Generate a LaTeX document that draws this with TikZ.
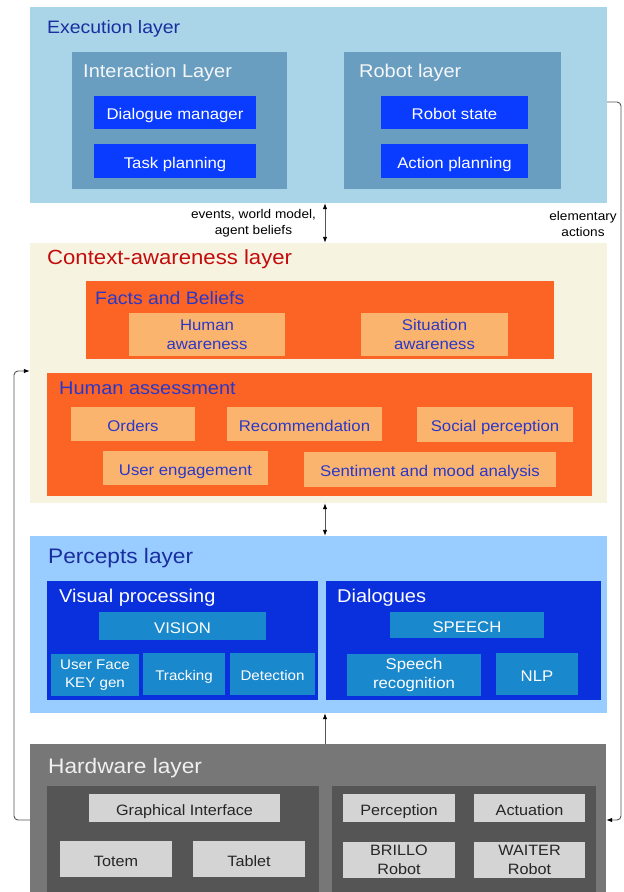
\documentclass[tikz,border=0pt]{standalone}
\usepackage{fontspec}
\setmainfont{Liberation Sans}[FakeStretch=1.08]
\usetikzlibrary{arrows.meta}

\definecolor{execbg}{HTML}{AAD5E8}
\definecolor{execsub}{HTML}{6A9EC0}
\definecolor{brightblue}{HTML}{0A3CFF}
\definecolor{titleblue}{HTML}{1A2EA0}
\definecolor{ctxbg}{HTML}{F6F4E1}
\definecolor{ctxred}{HTML}{C40C0C}
\definecolor{ctxorange}{HTML}{FB6424}
\definecolor{ctxlight}{HTML}{FBB46E}
\definecolor{ctxtext}{HTML}{2A38C8}
\definecolor{percbg}{HTML}{99CCFF}
\definecolor{percsub}{HTML}{0A30DD}
\definecolor{percfill}{HTML}{1A88CC}
\definecolor{hwbg}{HTML}{777777}
\definecolor{hwsub}{HTML}{555555}
\definecolor{hwfill}{HTML}{D4D4D4}
\definecolor{wirecol}{HTML}{555555}

\begin{document}
\begin{tikzpicture}[x=1pt,y=-1pt,
  >={Latex[length=6pt,width=4.5pt,fill=black,color=black]},
  block/.style={inner sep=0pt, align=center},
  oneline/.style={text height=14pt, text depth=0pt},
  smallline/.style={font=\fontsize{14}{17.5}\selectfont, text height=12pt, text depth=0pt},
  layertitle/.style={inner sep=0pt, anchor=base west, font=\fontsize{20.5}{24}\selectfont},
  subtitle/.style={inner sep=0pt, anchor=base west, font=\fontsize{18.5}{22}\selectfont},
  execbox/.style={block, fill=brightblue, text=white, font=\fontsize{15.5}{19}\selectfont},
  ctxbox/.style={block, fill=ctxlight, text=ctxtext, font=\fontsize{15.5}{19}\selectfont},
  percbox/.style={block, fill=percfill, text=white, font=\fontsize{15.5}{19}\selectfont},
  hwbox/.style={block, fill=hwfill, text=black!85, font=\fontsize{15}{19}\selectfont},
  note/.style={inner sep=0pt, align=center, font=\fontsize{12.6}{16.5}\selectfont},
  link/.style={draw=wirecol, line width=0.9pt}
]
\fill[white] (0,0) rectangle (624,892);
\useasboundingbox (0,0) rectangle (624,892);

% execution layer
\node[block, fill=execbg, minimum width=577, minimum height=196] (exec) at (318.5,105) {};
\node[layertitle, text=titleblue, font=\fontsize{18}{21}\selectfont] (exectitle) at (47,33) {Execution layer};
\node[block, fill=execsub, minimum width=215, minimum height=137] (inter) at (179.5,120.5) {};
\node[subtitle, text=white!92!execsub] (intertitle) at (83,77) {Interaction Layer};
\node[execbox, oneline, minimum width=162, minimum height=33] (dlg) at (175,112.5) {Dialogue manager};
\node[execbox, oneline, minimum width=162, minimum height=34] (task) at (175,161) {Task planning};
\node[block, fill=execsub, minimum width=217, minimum height=137] (robot) at (452.5,120.5) {};
\node[subtitle, text=white!92!execsub] (robottitle) at (359,77) {Robot layer};
\node[execbox, oneline, minimum width=147, minimum height=33] (rstate) at (454.5,112.5) {Robot state};
\node[execbox, oneline, minimum width=147, minimum height=34] (aplan) at (454.5,161) {Action planning};

% context-awareness layer
\node[block, fill=ctxbg, minimum width=577, minimum height=260] (ctx) at (318.5,373) {};
\node[layertitle, text=ctxred] (ctxtitle) at (47,264) {Context-awareness layer};
\node[block, fill=ctxorange, minimum width=468, minimum height=78] (facts) at (320,320) {};
\node[subtitle, text=ctxtext, font=\fontsize{18}{22}\selectfont] (factstitle) at (95,304) {Facts and Beliefs};
\node[ctxbox, minimum width=156, minimum height=43] (haware) at (207,334.5) {Human\\awareness};
\node[ctxbox, minimum width=147, minimum height=43] (saware) at (434.5,334.5) {Situation\\awareness};
\node[block, fill=ctxorange, minimum width=545, minimum height=123] (assess) at (319.5,434.5) {};
\node[subtitle, text=ctxtext] (assesstitle) at (59,394) {Human assessment};
\node[ctxbox, oneline, minimum width=124, minimum height=34] (orders) at (133,424) {Orders};
\node[ctxbox, oneline, minimum width=155, minimum height=34] (recom) at (304.5,424) {Recommendation};
\node[ctxbox, oneline, minimum width=156, minimum height=35] (social) at (495,424.5) {Social perception};
\node[ctxbox, oneline, minimum width=165, minimum height=34] (engage) at (185.5,468) {User engagement};
\node[ctxbox, oneline, minimum width=252, minimum height=35] (mood) at (430,469.5) {Sentiment and mood analysis};

% percepts layer
\node[block, fill=percbg, minimum width=577, minimum height=177] (perc) at (318.5,624.5) {};
\node[layertitle, text=titleblue, font=\fontsize{21}{24}\selectfont] (perctitle) at (48,563) {Percepts layer};
\node[block, fill=percsub, minimum width=271, minimum height=119] (visual) at (182.5,640.5) {};
\node[subtitle, text=white] (visualtitle) at (59,602) {Visual processing};
\node[percbox, oneline, minimum width=167, minimum height=28] (vision) at (182.5,626) {VISION};
\node[percbox, minimum width=88, minimum height=42, font=\fontsize{14}{17.5}\selectfont] (facekey) at (95,675) {User Face\\KEY gen};
\node[percbox, smallline, minimum width=82, minimum height=42] (track) at (184,674) {Tracking};
\node[percbox, smallline, minimum width=85, minimum height=42] (detect) at (272.5,674) {Detection};
\node[block, fill=percsub, minimum width=275, minimum height=119] (dialog) at (463.5,640.5) {};
\node[subtitle, text=white] (dialogtitle) at (337,602) {Dialogues};
\node[percbox, oneline, minimum width=154, minimum height=26] (speech) at (467,625) {SPEECH};
\node[percbox, minimum width=134, minimum height=42] (srec) at (414,675) {Speech\\recognition};
\node[percbox, oneline, minimum width=82, minimum height=42] (nlp) at (537,674) {NLP};

% hardware layer
\node[block, fill=hwbg, minimum width=576, minimum height=148] (hw) at (318,818) {};
\node[layertitle, text=white!94!black, font=\fontsize{21}{24}\selectfont] (hwtitle) at (48,773) {Hardware layer};
\node[block, fill=hwsub, minimum width=272, minimum height=106] (hwleft) at (183,839) {};
\node[hwbox, oneline, minimum width=191, minimum height=28] (gui) at (184.5,808) {Graphical Interface};
\node[hwbox, oneline, minimum width=112, minimum height=36] (totem) at (116,859) {Totem};
\node[hwbox, oneline, minimum width=112, minimum height=36] (tablet) at (249,859) {Tablet};
\node[block, fill=hwsub, minimum width=264, minimum height=106] (hwright) at (464,839) {};
\node[hwbox, oneline, minimum width=112, minimum height=28] (percept) at (399,808) {Perception};
\node[hwbox, oneline, minimum width=111, minimum height=28] (actuate) at (529.5,808) {Actuation};
\node[hwbox, minimum width=112, minimum height=36] (brillo) at (399,860) {BRILLO\\Robot};
\node[hwbox, minimum width=111, minimum height=36] (waiter) at (529.5,860) {WAITER\\Robot};

% links between the layers
\coordinate (spine) at (325,0);
\coordinate (rtop) at (621,102);
\coordinate (rbot) at (621,820);
\coordinate (ltop) at (14,371);
\coordinate (lbot) at (14,820);
\draw[link][<->] (exec.south -| spine) -- (ctx.north -| spine);
\node[note] (beliefs) at (253.5,223) {events, world model,\\agent beliefs};
\node[note] (elem) at (583,224) {elementary\\actions};
\draw[link][<->] (ctx.south -| spine) -- (perc.north -| spine);
\draw[link][->] (hw.north -| spine) -- (perc.south -| spine);
\draw[link][->, rounded corners=4] (exec.east |- rtop) -- (rtop) -- (rbot) -- (hw.east |- rbot);
\draw[link][->, rounded corners=4] (hw.west |- lbot) -- (lbot) -- (ltop) -- (ctx.west |- ltop);
\end{tikzpicture}
\end{document}
